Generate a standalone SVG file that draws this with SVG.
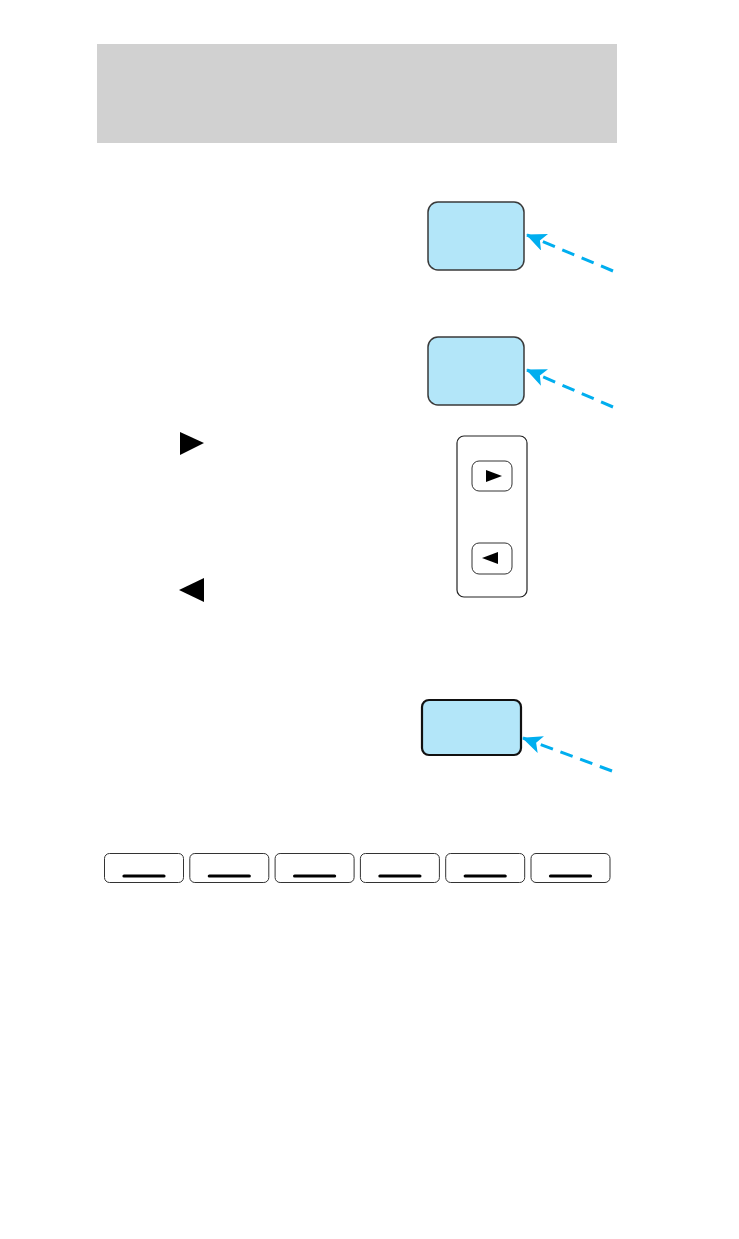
<svg xmlns="http://www.w3.org/2000/svg" width="739" height="1239" viewBox="0 0 739 1239">
<style>
.box{fill:#b3e6f9;stroke:#3a3a3a;stroke-width:1.5}
.box3{fill:#b3e6f9;stroke:#111;stroke-width:2.2}
.panel{fill:#fff;stroke:#222;stroke-width:1.2}
.btn{fill:#fff;stroke:#333;stroke-width:1}
.bar{stroke:#000;stroke-width:3.2;stroke-linecap:round}
.conn{stroke:#00aeef;stroke-width:3;stroke-dasharray:13 8;fill:none}
.tri{fill:#000}
</style>
<defs>
<marker id="ah" viewBox="0 0 20 18" refX="19" refY="9" markerWidth="20" markerHeight="18" markerUnits="userSpaceOnUse" orient="auto">
<path d="M0,0 L20,9 L0,18 L5,9 z" fill="#00aeef"/>
</marker>
</defs>
<rect id="header" x="97" y="44" width="520" height="99" fill="#d1d1d1"/>
<g id="box1"><rect class="box" x="428" y="202" width="96" height="68" rx="10"/></g>
<g id="box2"><rect class="box" x="428" y="337" width="96" height="68" rx="10"/></g>
<g id="panel">
<rect class="panel" x="457" y="436" width="70" height="161" rx="7"/>
<rect class="btn" x="472" y="461" width="40" height="30" rx="7"/>
<polygon class="tri" points="486,470 502,476 486,482"/>
<rect class="btn" x="472" y="543" width="40" height="31" rx="7"/>
<polygon class="tri" points="498,552 482,558 498,564"/>
</g>
<g id="box3"><rect class="box3" x="422" y="700" width="99" height="55" rx="7"/></g>
<g id="sym-right"><polygon class="tri" points="180,432 204,443 180,455"/></g>
<g id="sym-left"><polygon class="tri" points="204,578 179,590 204,602"/></g>
<g id="presets">
<g id="p1"><rect class="btn" x="104.5" y="853.5" width="79" height="29" rx="5"/><line class="bar" x1="124" y1="876" x2="164" y2="876"/></g>
<g id="p2"><rect class="btn" x="189.8" y="853.5" width="79" height="29" rx="5"/><line class="bar" x1="209.3" y1="876" x2="249.3" y2="876"/></g>
<g id="p3"><rect class="btn" x="275.1" y="853.5" width="79" height="29" rx="5"/><line class="bar" x1="294.6" y1="876" x2="334.6" y2="876"/></g>
<g id="p4"><rect class="btn" x="360.4" y="853.5" width="79" height="29" rx="5"/><line class="bar" x1="379.9" y1="876" x2="419.9" y2="876"/></g>
<g id="p5"><rect class="btn" x="445.7" y="853.5" width="79" height="29" rx="5"/><line class="bar" x1="465.2" y1="876" x2="505.2" y2="876"/></g>
<g id="p6"><rect class="btn" x="531" y="853.5" width="79" height="29" rx="5"/><line class="bar" x1="550.5" y1="876" x2="590.5" y2="876"/></g>
</g>
<g id="connectors">
<path class="conn" d="M613,271 L527,235" marker-end="url(#ah)"/>
<path class="conn" d="M613,407 L527,370" marker-end="url(#ah)"/>
<path class="conn" d="M612,771 L523,738" marker-end="url(#ah)"/>
</g>
</svg>
